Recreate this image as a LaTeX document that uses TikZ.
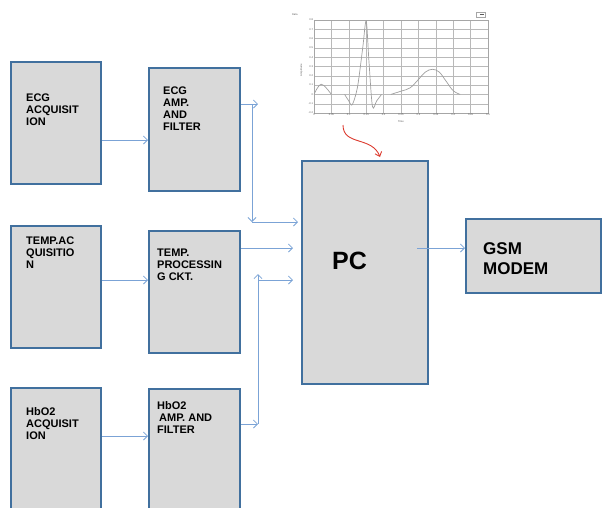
\documentclass[tikz,border=0pt]{standalone}
\usepackage{fontspec}
\setmainfont{Liberation Sans}
\usetikzlibrary{arrows.meta,positioning}
\definecolor{boxfill}{HTML}{D9D9D9}
\definecolor{boxline}{HTML}{41709E}
\definecolor{linkblue}{HTML}{7BA3D6}
\definecolor{curvered}{HTML}{DC3A2E}

\begin{document}
\begin{tikzpicture}[
  x=1pt, y=-1pt,
  blocknode/.style={rectangle, draw=boxline, fill=boxfill, line width=2pt,
                    anchor=north west, inner sep=0pt},
  textnode/.style={font=\fontsize{11}{12}\selectfont\bfseries, align=left, inner sep=0pt},
  link/.style={-{Straight Barb[length=4pt,width=8pt]}, linkblue, line width=0.8pt},
  chartgrid/.style={gray!55, line width=0.35pt},
  ticknode/.style={font=\fontsize{2.6}{3}\selectfont, text=gray!70!black, inner sep=0.8pt},
  >=Stealth
]
\clip (0,0) rectangle (603,507);

% Acquisition blocks
\node[blocknode, minimum width=90pt, minimum height=122pt] (ecgacq) at (10,61) {};
\node[blocknode, minimum width=90pt, minimum height=122pt] (tempacq) at (10,225) {};
\node[blocknode, minimum width=90pt, minimum height=130pt] (hboacq) at (10,387) {};

% Conditioning blocks
\node[blocknode, minimum width=91pt, minimum height=123pt] (ecgamp) at (148,67) {};
\node[blocknode, minimum width=91pt, minimum height=122pt] (tempproc) at (148,230) {};
\node[blocknode, minimum width=91pt, minimum height=130pt] (hboamp) at (148,388) {};

% PC and modem
\node[blocknode, minimum width=126pt, minimum height=223pt] (pc) at (301,160) {};
\node[blocknode, minimum width=135pt, minimum height=74pt] (gsm) at (465,218) {};

% Block texts
\node[textnode, below right=33pt and 16pt of ecgacq.north west] (ecgacqtxt) {ECG\\ACQUISIT\\ION};
\node[textnode, below right=20pt and 15pt of ecgamp.north west] (ecgamptxt) {ECG\\AMP.\\AND\\FILTER};
\node[textnode, below right=12pt and 16pt of tempacq.north west] (tempacqtxt) {TEMP.AC\\QUISITIO\\N};
\node[textnode, below right=19pt and 9pt of tempproc.north west] (tempproctxt) {TEMP.\\PROCESSIN\\G CKT.};
\node[textnode, below right=20pt and 16pt of hboacq.north west] (hboacqtxt) {HbO2\\ACQUISIT\\ION};
\node[textnode, below right=13pt and 9pt of hboamp.north west] (hboamptxt) {HbO2\\\hspace{2pt}AMP. AND\\FILTER};
\node[font=\fontsize{25}{28}\selectfont\bfseries, inner sep=0pt,
      below right=92pt and 31pt of pc.north west] (pctxt) {PC};
\node[font=\fontsize{17}{20}\selectfont\bfseries, align=left, inner sep=0pt,
      below right=24pt and 18pt of gsm.north west] (gsmtxt) {GSM\\MODEM};

% Rows of the links
\coordinate (ecgrow) at (0,140);
\coordinate (temprow) at (0,280);
\coordinate (hborow) at (0,436);
\coordinate (ecgtap) at (252,104);
\coordinate (ecgtip) at (258,104);
\coordinate (ecgdrop) at (252,222);
\coordinate (tempout) at (0,248);
\coordinate (hbotap) at (258,424);
\coordinate (hborise) at (258,274);
\coordinate (hbojoin) at (258,280);
\coordinate (pcout) at (417,248);

% Links
\draw[link] (ecgacq.east |- ecgrow) -- (ecgamp.west |- ecgrow);
\draw[link] (tempacq.east |- temprow) -- (tempproc.west |- temprow);
\draw[link] (hboacq.east |- hborow) -- (hboamp.west |- hborow);
\draw[link] (ecgamp.east |- ecgtap) -- (ecgtip);
\draw[link] (ecgtap) -- (ecgdrop);
\draw[link, shorten >=3pt] (ecgdrop) -- (pc.west |- ecgdrop);
\draw[link, shorten >=8pt] (tempproc.east |- tempout) -- (pc.west |- tempout);
\draw[link] (hboamp.east |- hbotap) -- (hbotap);
\draw[link] (hbotap) -- (hborise);
\draw[link, shorten >=8pt] (hbojoin) -- (pc.west |- hbojoin);
\draw[link] (pcout) -- (gsm.west |- pcout);

% ECG trace inset
\begin{scope}[xshift=314pt, yshift=-94.4pt, x=348pt, y=93pt]
  \foreach \i in {0,...,10}
    \draw[chartgrid] (\i*0.05,-0.2) -- (\i*0.05,0.8);
  \foreach \j in {-2,...,8}
    \draw[chartgrid] (0,\j/10) -- (0.5,\j/10);
  \draw[gray!70, line width=0.4pt] (0,-0.2) rectangle (0.5,0.8);
  \foreach \v [count=\k] in {0,0.05,0.1,0.15,0.2,0.25,0.3,0.35,0.4,0.45,0.5}
    \node[ticknode, below] (xt\k) at (\v,-0.2) {\v};
  \foreach \v [count=\k] in {-0.2,-0.1,0,0.1,0.2,0.3,0.4,0.5,0.6,0.7,0.8}
    \node[ticknode, left] (yt\k) at (0,\v) {\v};
  \node[ticknode] (timelbl) at (0.25,-0.29) {Time};
  \node[ticknode, rotate=90] (amplbl) at (-0.036,0.26) {Amplitude};
  \node[ticknode] (datalbl) at (-0.055,0.86) {Data};
  \node[draw=gray!70, fill=white, line width=0.3pt, minimum width=9pt, minimum height=4.5pt,
        inner sep=0pt] (legbox) at (0.478,0.86) {};
  \draw[gray!70!black, line width=1.2pt] ([xshift=-0.5pt]legbox.center) -- ([xshift=-1pt]legbox.east);
  % trace
  \draw[gray!75, line width=0.7pt] plot[smooth, tension=0.6] coordinates
    {(0,0) (0.01,0.07) (0.021,0.11) (0.035,0.07) (0.05,0)};
  \draw[gray!75, line width=0.7pt] plot[smooth, tension=0.5] coordinates
    {(0.088,0) (0.1,-0.07) (0.11,-0.11) (0.125,0.08) (0.14,0.5) (0.15,0.79)
     (0.158,0.35) (0.168,-0.13) (0.18,-0.07) (0.194,0)};
  \draw[gray!75, line width=0.7pt] plot[smooth, tension=0.6] coordinates
    {(0.221,0) (0.25,0.035) (0.276,0.07) (0.3,0.16) (0.32,0.24) (0.34,0.27)
     (0.36,0.24) (0.38,0.14) (0.4,0.04) (0.42,0)};
\end{scope}

% Red pointer to PC
\coordinate (chartfoot) at (343,125);
\coordinate (pctop) at (380,157);
\draw[curvered, line width=0.9pt, -{Straight Barb[length=4pt,width=7pt]}]
  (chartfoot) .. controls (343,146) and (372,136) .. (pctop);

\end{tikzpicture}
\end{document}
